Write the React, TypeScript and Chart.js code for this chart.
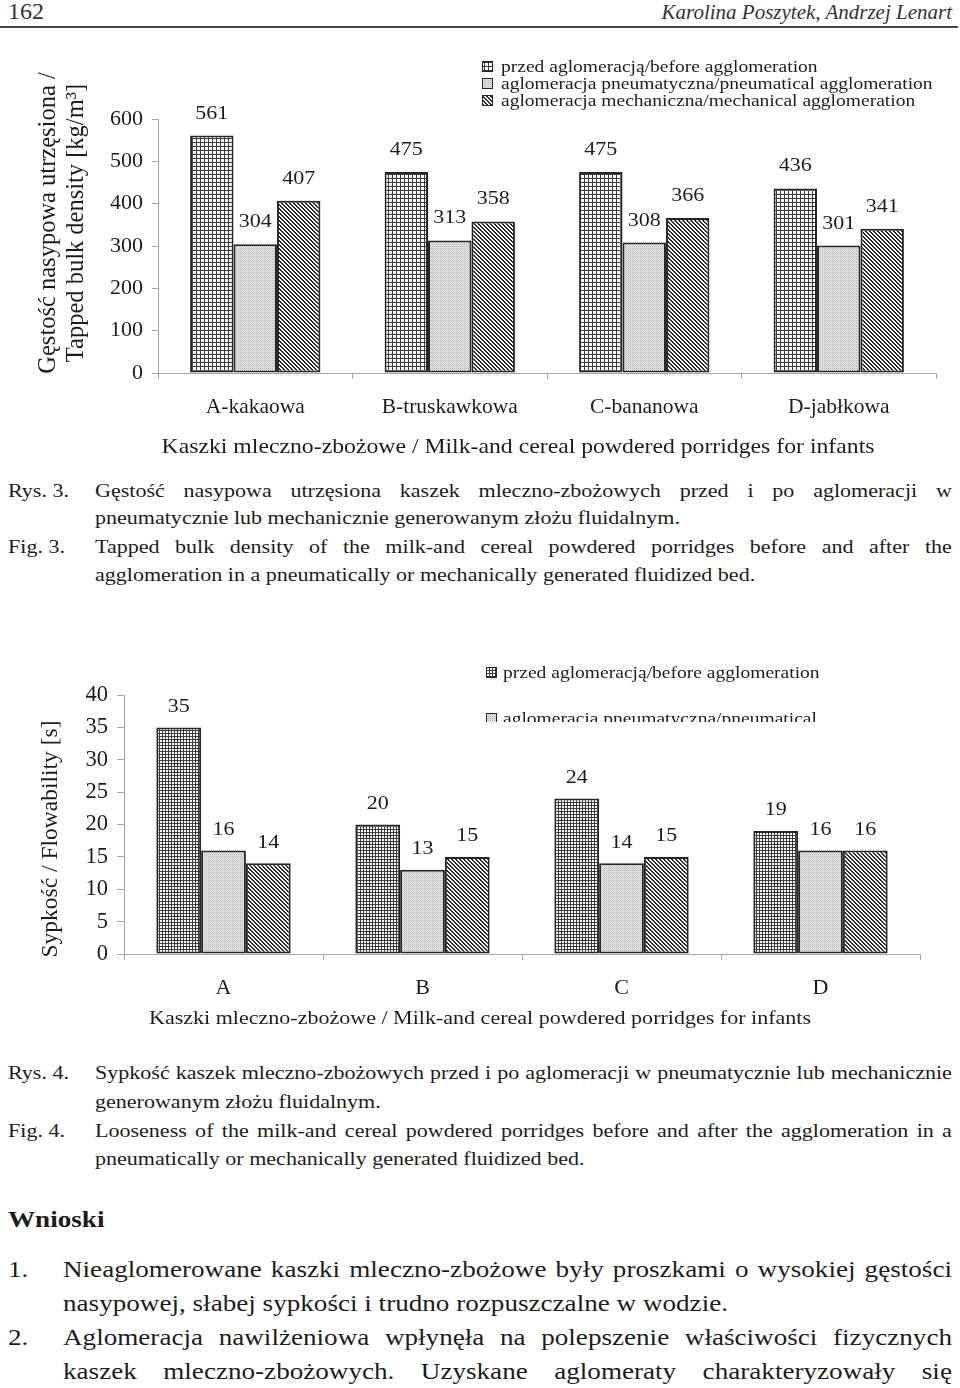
import React, { useEffect, useRef } from "react";
import { Chart, registerables } from "chart.js";

Chart.register(...registerables);

const FONT = "'Liberation Serif', 'Times New Roman', Times, serif";
const SX = 1.13; // horizontal stretch of the scanned page
const INK = "#1c1c1c";
const AXIS = "#a6a6a6";
const EDGE = "#262626";

// ---------- Rys. 3 : tapped bulk density ----------
const densityCategories = ["A-kakaowa", "B-truskawkowa", "C-bananowa", "D-jabłkowa"];
const densityBefore = [561, 475, 475, 436];
const densityPneumatic = [304, 313, 308, 301];
const densityMechanical = [407, 358, 366, 341];
const densityMax = 600;
const densityStep = 100;
const densityLegend = [
  "przed aglomeracją/before agglomeration",
  "aglomeracja pneumatyczna/pneumatical agglomeration",
  "aglomeracja mechaniczna/mechanical agglomeration",
];
const densityYTitle = ["Gęstość nasypowa utrzęsiona /", "Tapped bulk density [kg/m³]"];
const densityXTitle = "Kaszki mleczno-zbożowe / Milk-and cereal powdered porridges for infants";

// ---------- Rys. 4 : flowability ----------
const flowCategories = ["A", "B", "C", "D"];
const flowBefore = [35, 20, 24, 19];
const flowPneumatic = [16, 13, 14, 16];
const flowMechanical = [14, 15, 15, 16];
const flowMax = 40;
const flowStep = 5;
const flowLegend = ["przed aglomeracją/before agglomeration", "aglomeracja pneumatyczna/pneumatical"];
const flowYTitle = ["Sypkość / Flowability [s]"];
const flowXTitle = "Kaszki mleczno-zbożowe / Milk-and cereal powdered porridges for infants";

// ---------- page text ----------
const headerPage = "162";
const headerAuthors = "Karolina Poszytek, Andrzej Lenart";
const fig3Pl = [
  "Gęstość nasypowa utrzęsiona kaszek mleczno-zbożowych przed i po aglomeracji w",
  "pneumatycznie lub mechanicznie generowanym złożu fluidalnym.",
];
const fig3En = [
  "Tapped bulk density of the milk-and cereal powdered porridges before and after the",
  "agglomeration in a pneumatically or mechanically generated fluidized bed.",
];
const fig4Pl = [
  "Sypkość kaszek mleczno-zbożowych przed i po aglomeracji w pneumatycznie lub mechanicznie",
  "generowanym złożu fluidalnym.",
];
const fig4En = [
  "Looseness of the milk-and cereal powdered porridges before and after the agglomeration in a",
  "pneumatically or mechanically generated fluidized bed.",
];
const conclusion1 = [
  "Nieaglomerowane kaszki mleczno-zbożowe były proszkami o wysokiej gęstości",
  "nasypowej, słabej sypkości i trudno rozpuszczalne w wodzie.",
];
const conclusion2 = [
  "Aglomeracja nawilżeniowa wpłynęła na polepszenie właściwości fizycznych",
  "kaszek mleczno-zbożowych. Uzyskane aglomeraty charakteryzowały się",
];

// ---------- helpers ----------
function makePatterns(gridStep: number): CanvasPattern[] {
  const mk = (w: number, h: number, draw: (g: CanvasRenderingContext2D) => void) => {
    const c = document.createElement("canvas");
    c.width = w;
    c.height = h;
    const g = c.getContext("2d")!;
    draw(g);
    return g.createPattern(c, "repeat")!;
  };
  const grid = mk(gridStep, gridStep, (g) => {
    g.fillStyle = "#ffffff";
    g.fillRect(0, 0, gridStep, gridStep);
    g.fillStyle = "#3a3a3a";
    g.fillRect(0, 0, gridStep, 1);
    g.fillRect(0, 0, 1, gridStep);
  });
  const dots = mk(2, 2, (g) => {
    g.fillStyle = "#e6e6e6";
    g.fillRect(0, 0, 2, 2);
    g.fillStyle = "#b4b4b4";
    g.fillRect(0, 0, 1, 1);
    g.fillStyle = "#d2d2d2";
    g.fillRect(1, 1, 1, 1);
  });
  const hatch = mk(4, 4, (g) => {
    g.fillStyle = "#ffffff";
    g.fillRect(0, 0, 4, 4);
    g.fillStyle = "#2a2a2a";
    for (let i = 0; i < 4; i++) {
      g.fillRect(i, i, 1, 1);
      g.fillRect((i + 1) % 4, i, 1, 1);
    }
  });
  return [grid, dots, hatch];
}

type TextOpts = { align?: CanvasTextAlign; baseline?: CanvasTextBaseline; sx?: number; rotate?: boolean };

function drawText(ctx: CanvasRenderingContext2D, text: string, x: number, y: number, size: number, o: TextOpts = {}) {
  ctx.save();
  ctx.translate(x, y);
  const sx = o.sx ?? SX;
  if (o.rotate) {
    ctx.rotate(-Math.PI / 2);
    ctx.scale(1, sx);
  } else {
    ctx.scale(sx, 1);
  }
  ctx.font = `${size}px ${FONT}`;
  ctx.fillStyle = INK;
  ctx.textAlign = o.align ?? "left";
  ctx.textBaseline = o.baseline ?? "alphabetic";
  ctx.fillText(text, 0, 0);
  ctx.restore();
}

type Spec = {
  categories: string[];
  series: number[][];
  names: string[];
  max: number;
  step: number;
  top: number;
  width: number;
  height: number;
  padTop: number;
  padRight: number;
  yWidth: number;
  xHeight: number;
  catPct: number;
  gridStep: number;
  tickSize: number;
  catSize: number;
  catPad: number;
  yTickLen: number;
  labelSize: number;
  labelRise: number;
  legend: { boxX: number; textX: number; baselines: number[]; size: number; box: number; clipBottom?: number };
  xTitle: { text: string; x: number; y: number; size: number };
  yTitle: { lines: string[]; xs: number[]; y: number; size: number };
};

const densitySpec: Spec = {
  categories: densityCategories,
  series: [densityBefore, densityPneumatic, densityMechanical],
  names: densityLegend,
  max: densityMax,
  step: densityStep,
  top: 30,
  width: 960,
  height: 440,
  padTop: 89,
  padRight: 24,
  yWidth: 158,
  xHeight: 97,
  catPct: 0.67,
  gridStep: 4,
  tickSize: 22,
  catSize: 21.5,
  catPad: 15,
  yTickLen: 6,
  labelSize: 19.5,
  labelRise: 17,
  legend: { boxX: 482, textX: 501, baselines: [42, 59, 76], size: 17.3, box: 11 },
  xTitle: { text: densityXTitle, x: 518, y: 417, size: 21 },
  yTitle: { lines: densityYTitle, xs: [49, 77], y: 193, size: 24.5 },
};

const flowSpec: Spec = {
  categories: flowCategories,
  series: [flowBefore, flowPneumatic, flowMechanical],
  names: flowLegend,
  max: flowMax,
  step: flowStep,
  top: 640,
  width: 960,
  height: 400,
  padTop: 55,
  padRight: 40,
  yWidth: 124,
  xHeight: 86,
  catPct: 0.675,
  gridStep: 3,
  tickSize: 22.5,
  catSize: 22,
  catPad: 15,
  yTickLen: 7,
  labelSize: 19.5,
  labelRise: 15.5,
  legend: { boxX: 486, textX: 503, baselines: [38, 84], size: 17.3, box: 11, clipBottom: 82 },
  xTitle: { text: flowXTitle, x: 480, y: 379, size: 19.5 },
  yTitle: { lines: flowYTitle, xs: [51], y: 199, size: 23.5 },
};

function buildConfig(spec: Spec): any {
  const pats = makePatterns(spec.gridStep);
  const datasets = spec.series.map((vals, i) => ({
    label: spec.names[i] ?? "",
    data: vals,
    backgroundColor: pats[i],
    borderColor: EDGE,
    borderWidth: 2,
    borderSkipped: false,
    categoryPercentage: spec.catPct,
    barPercentage: 1,
  }));

  const decorations = {
    id: "decorations",
    afterDatasetsDraw(chart: any) {
      const ctx: CanvasRenderingContext2D = chart.ctx;
      chart.data.datasets.forEach((ds: any, di: number) => {
        const meta = chart.getDatasetMeta(di);
        meta.data.forEach((el: any, i: number) => {
          drawText(ctx, String(ds.data[i]), el.x, el.y - spec.labelRise, spec.labelSize, { align: "center" });
        });
      });
    },
    afterDraw(chart: any) {
      const ctx: CanvasRenderingContext2D = chart.ctx;
      // legend
      const lg = spec.legend;
      ctx.save();
      if (lg.clipBottom !== undefined) {
        ctx.beginPath();
        ctx.rect(0, 0, spec.width, lg.clipBottom);
        ctx.clip();
      }
      spec.names.forEach((name, i) => {
        const b = lg.baselines[i];
        ctx.fillStyle = pats[i];
        ctx.fillRect(lg.boxX, b - lg.box, lg.box, lg.box);
        ctx.strokeStyle = EDGE;
        ctx.lineWidth = 1;
        ctx.strokeRect(lg.boxX + 0.5, b - lg.box + 0.5, lg.box - 1, lg.box - 1);
        drawText(ctx, name, lg.textX, b, lg.size);
      });
      ctx.restore();
      // axis titles
      drawText(ctx, spec.xTitle.text, spec.xTitle.x, spec.xTitle.y, spec.xTitle.size, { align: "center", baseline: "middle" });
      spec.yTitle.lines.forEach((line, i) => {
        drawText(ctx, line, spec.yTitle.xs[i], spec.yTitle.y, spec.yTitle.size, {
          align: "center",
          baseline: "middle",
          rotate: true,
          sx: 1,
        });
      });
    },
  };

  return {
    type: "bar",
    data: { labels: spec.categories, datasets },
    options: {
      animation: false,
      responsive: false,
      devicePixelRatio: 1,
      layout: { padding: { left: 0, right: spec.padRight, top: spec.padTop, bottom: 0 } },
      plugins: { legend: { display: false }, tooltip: { enabled: false }, title: { display: false } },
      scales: {
        x: {
          type: "category",
          offset: true,
          grid: { display: true, drawOnChartArea: false, drawTicks: true, tickLength: 6, color: AXIS, offset: true },
          border: { display: true, color: AXIS, width: 1 },
          ticks: {
            font: { family: FONT, size: spec.catSize },
            color: INK,
            padding: spec.catPad,
            maxRotation: 0,
            autoSkip: false,
          },
          afterFit: (s: any) => {
            s.height = spec.xHeight;
          },
        },
        y: {
          min: 0,
          max: spec.max,
          ticks: { stepSize: spec.step, font: { family: FONT, size: spec.tickSize }, color: INK, padding: 9 },
          grid: { drawOnChartArea: false, drawTicks: true, tickLength: spec.yTickLen, color: AXIS },
          border: { display: true, color: AXIS, width: 1 },
          afterFit: (s: any) => {
            s.width = spec.yWidth;
          },
        },
      },
    },
    plugins: [decorations],
  };
}

function BarFigure({ spec }: { spec: Spec }) {
  const ref = useRef<HTMLCanvasElement>(null);
  useEffect(() => {
    const canvas = ref.current!;
    const chart = new Chart(canvas, buildConfig(spec));
    return () => chart.destroy();
  }, [spec]);
  return (
    <canvas
      ref={ref}
      width={spec.width}
      height={spec.height}
      style={{ position: "absolute", left: 0, top: spec.top, width: spec.width, height: spec.height, display: "block" }}
    />
  );
}

type LineProps = {
  x: number;
  cy: number;
  size: number;
  text: string;
  width?: number;
  justify?: boolean;
  sx?: number;
  bold?: boolean;
  italic?: boolean;
  color?: string;
};

function TextLine(p: LineProps) {
  const sx = p.sx ?? SX;
  const base: React.CSSProperties = {
    position: "absolute",
    left: p.x,
    top: p.cy - p.size * 0.64,
    fontFamily: FONT,
    fontSize: p.size,
    lineHeight: `${p.size * 1.2}px`,
    whiteSpace: "nowrap",
    transform: `scaleX(${sx})`,
    transformOrigin: "left top",
    color: p.color ?? INK,
    fontWeight: p.bold ? "bold" : "normal",
    fontStyle: p.italic ? "italic" : "normal",
    margin: 0,
  };
  if (p.justify && p.width) {
    const words = p.text.split(" ");
    return (
      <div style={{ ...base, display: "flex", justifyContent: "space-between", width: p.width / sx }}>
        {words.map((w, i) => (
          <span key={i} style={{ flex: "0 0 auto" }}>
            {w}
          </span>
        ))}
      </div>
    );
  }
  return <div style={base}>{p.text}</div>;
}

export default function App() {
  const capSize = 19.5;
  const conSize = 24;
  return (
    <div
      style={{
        position: "absolute",
        left: 0,
        top: 0,
        width: 960,
        height: 1388,
        overflow: "hidden",
        background: "#ffffff",
      }}
    >
      {/* running header */}
      <TextLine x={8} cy={12} size={24} sx={1} text={headerPage} color="#333" />
      <div
        style={{
          position: "absolute",
          right: 8,
          top: 13 - 21 * 0.64,
          fontFamily: FONT,
          fontSize: 21,
          lineHeight: `${21 * 1.2}px`,
          fontStyle: "italic",
          color: "#333",
          whiteSpace: "nowrap",
        }}
      >
        {headerAuthors}
      </div>
      <div style={{ position: "absolute", left: 0, top: 26, width: 958, height: 2, background: "#444" }} />

      <BarFigure spec={densitySpec} />

      {/* caption Fig. 3 */}
      <TextLine x={8} cy={491} size={capSize} text="Rys. 3." />
      <TextLine x={95} cy={491} size={capSize} width={857} justify text={fig3Pl[0]} />
      <TextLine x={95} cy={518} size={capSize} text={fig3Pl[1]} />
      <TextLine x={8} cy={547} size={capSize} text="Fig. 3." />
      <TextLine x={95} cy={547} size={capSize} width={857} justify text={fig3En[0]} />
      <TextLine x={95} cy={575} size={capSize} text={fig3En[1]} />

      <BarFigure spec={flowSpec} />

      {/* caption Fig. 4 */}
      <TextLine x={8} cy={1073} size={capSize} text="Rys. 4." />
      <TextLine x={95} cy={1073} size={capSize} width={857} justify text={fig4Pl[0]} />
      <TextLine x={95} cy={1102} size={capSize} text={fig4Pl[1]} />
      <TextLine x={8} cy={1131} size={capSize} text="Fig. 4." />
      <TextLine x={95} cy={1131} size={capSize} width={857} justify text={fig4En[0]} />
      <TextLine x={95} cy={1159} size={capSize} text={fig4En[1]} />

      {/* conclusions */}
      <TextLine x={8} cy={1220} size={24} bold text="Wnioski" />
      <TextLine x={8} cy={1270} size={conSize} text="1." />
      <TextLine x={63} cy={1270} size={conSize} width={889} justify text={conclusion1[0]} />
      <TextLine x={63} cy={1304} size={conSize} text={conclusion1[1]} />
      <TextLine x={8} cy={1338} size={conSize} text="2." />
      <TextLine x={63} cy={1338} size={conSize} width={889} justify text={conclusion2[0]} />
      <TextLine x={63} cy={1372} size={conSize} width={889} justify text={conclusion2[1]} />
    </div>
  );
}
